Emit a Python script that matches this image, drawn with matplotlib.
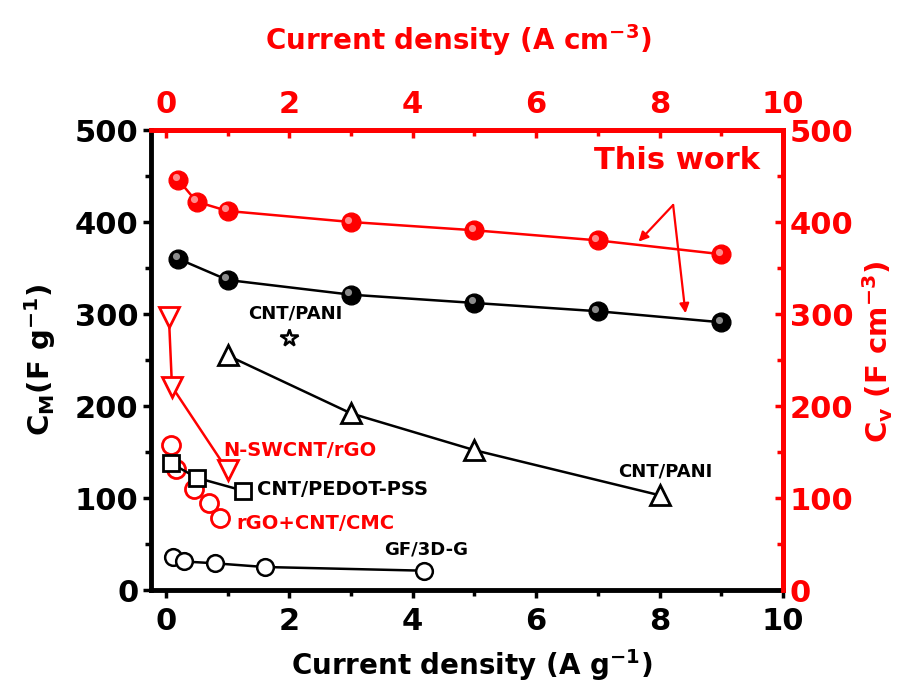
import matplotlib
matplotlib.use("Agg")
import matplotlib.pyplot as plt
from matplotlib.ticker import MultipleLocator
from matplotlib.transforms import offset_copy

plt.rcParams['font.family'] = ['DejaVu Sans']
plt.rcParams['font.weight'] = 'bold'
plt.rcParams['mathtext.default'] = 'bf'

RED = '#ff0000'

# This work (volumetric, red; top/right axes)
tw_v_x = [0.2, 0.5, 1, 3, 5, 7, 9]
tw_v_y = [446, 422, 412, 400, 391, 380, 365]
# This work (gravimetric, black)
tw_m_x = [0.2, 1, 3, 5, 7, 9]
tw_m_y = [360, 337, 321, 312, 303, 291]
# N-SWCNT/rGO (red)
nsw_x = [0.05, 0.1, 1.0]
nsw_y = [297, 221, 130]
# rGO+CNT/CMC (red)
cmc_x = [0.08, 0.16, 0.45, 0.7, 0.87]
cmc_y = [158, 132, 110, 95, 78]
# CNT/PEDOT-PSS (black)
ped_x = [0.08, 0.5, 1.25]
ped_y = [138, 122, 108]
# CNT/PANI (black triangles)
pani_x = [1, 3, 5, 8]
pani_y = [255, 192, 152, 103]
# CNT/PANI star
star_x = [2.0]
star_y = [274]
# GF/3D-G
gf_x = [0.12, 0.3, 0.8, 1.6, 4.18]
gf_y = [36, 31, 29, 25, 21]

fig = plt.figure(figsize=(9.06, 6.91), dpi=100)
ax = fig.add_axes([151/906, 1-590/691, (783-151)/906, (590-130)/691])

hl = offset_copy(ax.transData, fig=fig, x=-2.5, y=2.5, units='dots')

def ball(x, y, color, ms=13):
    ax.plot(x, y, '-', color=color, lw=1.8, zorder=3)
    ax.plot(x, y, 'o', color=color, ms=ms, mec=color, zorder=4)
    ax.plot(x, y, 'o', color='white', alpha=0.55, ms=ms*0.38, mec='none',
            transform=hl, zorder=5)

ball(tw_v_x, tw_v_y, RED, 13.5)
ball(tw_m_x, tw_m_y, 'black', 13.5)

ax.plot(nsw_x, nsw_y, '-v', color=RED, mfc='white', mec=RED, ms=14, mew=2, lw=1.8, zorder=3)
ax.plot(cmc_x, cmc_y, 'o', color=RED, mfc='none', mec=RED, ms=13, mew=2, zorder=3)
ax.plot(ped_x, ped_y, '-s', color='black', mfc='white', mec='black', ms=11, mew=2, lw=1.8, zorder=4)
ax.plot(pani_x, pani_y, '-^', color='black', mfc='white', mec='black', ms=15, mew=2, lw=1.8, zorder=3)
ax.plot(star_x, star_y, '*', color='black', mfc='white', mec='black', ms=13, mew=1.8, zorder=3)
ax.plot(gf_x, gf_y, '-o', color='black', mfc='white', mec='black', ms=12, mew=1.8, lw=1.8, zorder=3)

ax.set_xlim(-0.24, 10)
ax.set_ylim(0, 500)

ax.xaxis.set_major_locator(MultipleLocator(2))
ax.xaxis.set_minor_locator(MultipleLocator(1))
ax.yaxis.set_major_locator(MultipleLocator(100))
ax.yaxis.set_minor_locator(MultipleLocator(50))
ax.tick_params(axis='both', which='major', direction='out', length=6, width=2.5,
               labelsize=22, pad=3)
ax.tick_params(axis='both', which='minor', direction='out', length=4, width=2.5)
ax.tick_params(axis='x', which='major', pad=6)
for lbl in ax.get_xticklabels() + ax.get_yticklabels():
    lbl.set_fontweight('bold')

for s in ['left', 'bottom']:
    ax.spines[s].set_linewidth(3.5)
    ax.spines[s].set_color('black')
for s in ['top', 'right']:
    ax.spines[s].set_linewidth(3.5)
    ax.spines[s].set_color(RED)
ax.spines['top'].set_zorder(6)
ax.spines['right'].set_zorder(6)

secx = ax.secondary_xaxis('top')
secx.xaxis.set_major_locator(MultipleLocator(2))
secx.xaxis.set_minor_locator(MultipleLocator(1))
secx.tick_params(axis='x', which='major', direction='in', length=6, width=2.5,
                 colors=RED, labelsize=22, pad=8)
secx.tick_params(axis='x', which='minor', direction='in', length=4, width=2.5, colors=RED)
secx.spines['top'].set_color(RED)
secx.spines['top'].set_linewidth(3.5)

secy = ax.secondary_yaxis('right')
secy.yaxis.set_major_locator(MultipleLocator(100))
secy.yaxis.set_minor_locator(MultipleLocator(50))
secy.tick_params(axis='y', which='major', direction='in', length=6, width=2.5,
                 colors=RED, labelsize=22, pad=5)
secy.tick_params(axis='y', which='minor', direction='in', length=4, width=2.5, colors=RED)
secy.spines['right'].set_color(RED)
secy.spines['right'].set_linewidth(3.5)

fig.text(472/906, 1-665/691, 'Current density (A g$^{-1}$)', ha='center', va='center',
         fontsize=20, fontweight='bold', color='black')
fig.text(458/906, 1-40/691, 'Current density (A cm$^{-3}$)', ha='center', va='center',
         fontsize=20, fontweight='bold', color=RED)
fig.text(40/906, 1-360/691, 'C$_{M}$(F g$^{-1}$)', ha='center', va='center', rotation=90,
         fontsize=21, fontweight='bold', color='black')
fig.text(878/906, 1-352/691, 'C$_{v}$ (F cm$^{-3}$)', ha='center', va='center', rotation=90,
         fontsize=21, fontweight='bold', color=RED)

# annotations
ax.text(8.29, 467, 'This work', color=RED, fontsize=22, fontweight='bold', ha='center', va='center')
ax.annotate('', xy=(7.66, 378.6), xytext=(8.22, 418.5),
            arrowprops=dict(arrowstyle='-|>', color=RED, lw=1.6, mutation_scale=14, shrinkA=0, shrinkB=0))
ax.annotate('', xy=(8.42, 300.8), xytext=(8.22, 418.5),
            arrowprops=dict(arrowstyle='-|>', color=RED, lw=1.6, mutation_scale=14, shrinkA=0, shrinkB=0))

ax.text(2.1, 301, 'CNT/PANI', fontsize=13, fontweight='bold', ha='center', va='center')
ax.text(8.09, 129, 'CNT/PANI', fontsize=13, fontweight='bold', ha='center', va='center')
ax.text(0.93, 152, 'N-SWCNT/rGO', fontsize=14, fontweight='bold', color=RED, ha='left', va='center')
ax.text(1.47, 108.7, 'CNT/PEDOT-PSS', fontsize=14, fontweight='bold', ha='left', va='center')
ax.text(1.15, 72.5, 'rGO+CNT/CMC', fontsize=14, fontweight='bold', color=RED, ha='left', va='center')
ax.text(3.53, 43.5, 'GF/3D-G', fontsize=13, fontweight='bold', ha='left', va='center')

fig.savefig('out.png', dpi=100)
